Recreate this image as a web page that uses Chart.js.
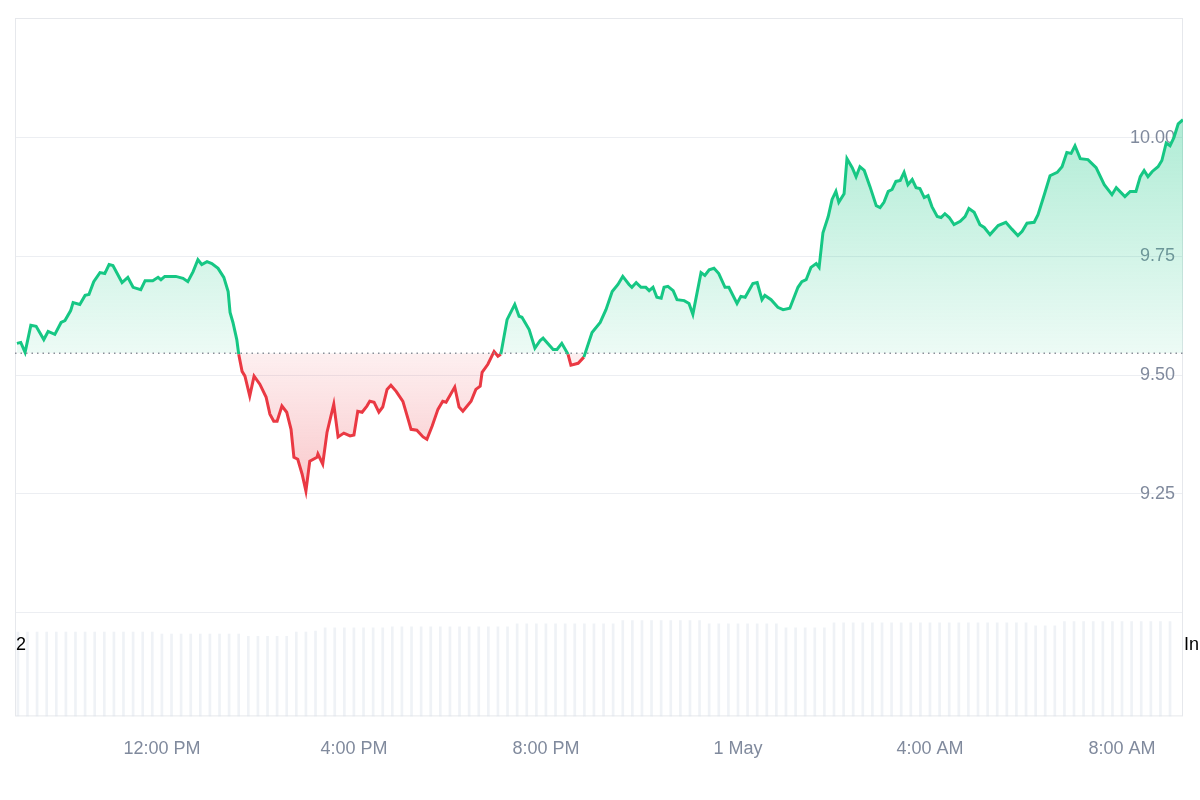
<!DOCTYPE html>
<html><head><meta charset="utf-8">
<script src="https://cdn.jsdelivr.net/npm/chart.js@4"></script>
<style>
html,body{margin:0;padding:0;background:#fff;overflow:hidden}
#wrap{position:relative;width:1200px;height:800px}
.t{position:absolute;font:18px "Liberation Sans",Arial,sans-serif;color:#000}
</style></head><body>
<div id="wrap"><canvas id="c" width="1200" height="800"></canvas>
<div class="t" style="left:16px;top:634px">2</div>
<div class="t" style="left:1184px;top:634px">In</div>
</div>
<script>
const hours = [8.98,9.06,9.15,9.27,9.38,9.54,9.63,9.77,9.90,9.98,10.10,10.15,10.29,10.40,10.48,10.58,10.71,10.81,10.90,10.98,11.17,11.29,11.40,11.56,11.65,11.81,11.92,11.98,12.06,12.29,12.44,12.54,12.65,12.75,12.83,12.94,13.04,13.17,13.29,13.38,13.42,13.48,13.56,13.60,13.67,13.73,13.83,13.92,14.04,14.17,14.25,14.33,14.40,14.50,14.60,14.69,14.75,14.83,14.92,15.00,15.08,15.23,15.25,15.35,15.44,15.58,15.67,15.79,15.92,16.00,16.08,16.17,16.27,16.33,16.42,16.52,16.60,16.69,16.77,16.88,17.02,17.13,17.19,17.31,17.44,17.52,17.63,17.75,17.85,17.92,18.10,18.19,18.27,18.44,18.54,18.63,18.67,18.79,18.92,19.00,19.06,19.19,19.35,19.44,19.50,19.65,19.77,19.88,19.94,20.15,20.23,20.33,20.46,20.52,20.67,20.79,20.96,21.13,21.25,21.38,21.50,21.60,21.73,21.79,21.88,21.98,22.08,22.15,22.23,22.31,22.40,22.46,22.54,22.65,22.73,22.88,22.98,23.06,23.23,23.31,23.40,23.50,23.60,23.73,23.81,23.98,24.06,24.15,24.31,24.40,24.50,24.56,24.69,24.83,24.94,25.08,25.25,25.33,25.42,25.52,25.63,25.69,25.77,25.88,25.96,26.04,26.10,26.21,26.27,26.38,26.46,26.54,26.63,26.75,26.88,26.96,27.04,27.13,27.21,27.29,27.38,27.46,27.54,27.63,27.71,27.79,27.88,27.96,28.04,28.15,28.23,28.31,28.40,28.50,28.63,28.73,28.81,28.92,29.04,29.13,29.25,29.42,29.58,29.71,29.83,29.92,30.02,30.17,30.25,30.38,30.50,30.65,30.75,30.85,30.94,31.02,31.13,31.29,31.46,31.63,31.79,31.88,32.06,32.17,32.29,32.38,32.46,32.54,32.63,32.75,32.83,32.92,33.00,33.08,33.17,33.27];
const prices = [9.567,9.569,9.548,9.605,9.603,9.575,9.592,9.586,9.611,9.615,9.636,9.653,9.649,9.668,9.670,9.697,9.716,9.714,9.733,9.731,9.695,9.706,9.685,9.680,9.699,9.699,9.706,9.701,9.708,9.708,9.704,9.697,9.718,9.743,9.733,9.739,9.735,9.725,9.706,9.676,9.632,9.611,9.575,9.544,9.508,9.498,9.456,9.498,9.481,9.454,9.418,9.403,9.403,9.435,9.422,9.386,9.327,9.323,9.292,9.256,9.319,9.327,9.334,9.313,9.380,9.439,9.370,9.378,9.372,9.374,9.424,9.422,9.435,9.445,9.443,9.422,9.433,9.470,9.479,9.466,9.445,9.407,9.386,9.384,9.370,9.365,9.393,9.428,9.445,9.443,9.475,9.433,9.424,9.445,9.470,9.477,9.506,9.523,9.550,9.540,9.544,9.617,9.649,9.624,9.622,9.596,9.557,9.573,9.578,9.554,9.554,9.567,9.544,9.521,9.525,9.538,9.590,9.611,9.638,9.676,9.691,9.708,9.691,9.685,9.695,9.685,9.685,9.678,9.685,9.664,9.662,9.685,9.687,9.678,9.659,9.657,9.651,9.628,9.716,9.710,9.722,9.725,9.714,9.685,9.685,9.651,9.666,9.664,9.693,9.695,9.659,9.668,9.659,9.643,9.638,9.641,9.685,9.697,9.701,9.727,9.735,9.727,9.800,9.834,9.870,9.887,9.864,9.882,9.956,9.937,9.918,9.939,9.931,9.897,9.857,9.853,9.864,9.887,9.891,9.908,9.910,9.927,9.901,9.912,9.895,9.893,9.874,9.878,9.855,9.834,9.832,9.840,9.832,9.817,9.824,9.834,9.851,9.843,9.817,9.811,9.796,9.815,9.822,9.807,9.794,9.803,9.820,9.822,9.838,9.880,9.920,9.927,9.939,9.969,9.967,9.983,9.956,9.954,9.937,9.901,9.880,9.895,9.876,9.887,9.887,9.918,9.931,9.918,9.929,9.939,9.952,9.989,9.983,10.000,10.029,10.038];
const baseline = 9.546;
const volHours = [9.0,9.2,9.4,9.6,9.8,10.0,10.2,10.4,10.6,10.8,11.0,11.2,11.4,11.6,11.8,12.0,12.2,12.4,12.6,12.8,13.0,13.2,13.4,13.6,13.8,14.0,14.2,14.4,14.6,14.8,15.0,15.2,15.4,15.6,15.8,16.0,16.2,16.4,16.6,16.8,17.0,17.2,17.4,17.6,17.8,18.0,18.2,18.4,18.6,18.8,19.0,19.2,19.4,19.6,19.8,20.0,20.2,20.4,20.6,20.8,21.0,21.2,21.4,21.6,21.8,22.0,22.2,22.4,22.6,22.8,23.0,23.2,23.4,23.6,23.8,24.0,24.2,24.4,24.6,24.8,25.0,25.2,25.4,25.6,25.8,26.0,26.2,26.4,26.6,26.8,27.0,27.2,27.4,27.6,27.8,28.0,28.2,28.4,28.6,28.8,29.0,29.2,29.4,29.6,29.8,30.0,30.2,30.4,30.6,30.8,31.0,31.2,31.4,31.6,31.8,32.0,32.2,32.4,32.6,32.8,33.0];
const volumes = [81,81,81,81,81,81,81,81,81,81,81,81,81,81,81,79,79,79,79,79,79,79,79,79,77,77,77,77,77,81,81,82,85,85,85,85,85,85,85,86,86,86,86,86,86,86,86,86,86,86,86,86,89,89,89,89,89,89,89,89,89,89,89,92,92,92,92,92,92,92,92,92,89,89,89,89,89,89,89,89,85,85,85,85,85,90,90,90,90,90,90,90,90,90,90,90,90,90,90,90,90,90,90,90,90,90,87,87,87,91,91,91,91,91,91,91,91,91,91,91,91];
const xTicks = [12,16,20,24,28,32];
const xTickLabels = ['12:00 PM','4:00 PM','8:00 PM','1 May','4:00 AM','8:00 AM'];
const yTicks = [9.0,9.25,9.5,9.75,10.0,10.25];
const yTickLabels = {9.25:'9.25',9.5:'9.50',9.75:'9.75',10:'10.00'};

const GREEN='#16c784', RED='#ea3943';
const frame = {id:'frame',
  beforeDatasetsDraw(ch){const a=ch.chartArea,c=ch.ctx;c.save();c.strokeStyle='#e6e8ec';c.lineWidth=1;c.strokeRect(a.left+0.5,a.top+0.5,a.right-a.left-1,a.bottom-a.top-1);c.restore();},
  afterDatasetsDraw(ch){const a=ch.chartArea,c=ch.ctx,y=ch.scales.y.getPixelForValue(baseline);c.save();c.strokeStyle='#8a8f99';c.lineWidth=1.5;c.setLineDash([1.5,4]);c.beginPath();c.moveTo(a.left,y);c.lineTo(a.right,y);c.stroke();c.restore();}
};
const ch = new Chart(document.getElementById('c'),{
  data:{datasets:[
    {type:'line',data:hours.map((h,i)=>({x:h,y:prices[i]})),yAxisID:'y',borderWidth:3,pointRadius:0,tension:0,
     borderColor:GREEN,fill:{value:baseline,above:'rgba(22,199,132,0.15)',below:'rgba(234,57,67,0.12)'},
     segment:{borderColor:c=>((c.p0.parsed.y+c.p1.parsed.y)/2<baseline?RED:GREEN)},order:0},
    {type:'bar',data:volHours.map((h,i)=>({x:h,y:volumes[i]})),yAxisID:'yv',backgroundColor:'rgba(220,226,236,0.45)',barThickness:2,order:1}
  ]},
  options:{responsive:false,animation:false,events:[],
    layout:{padding:{left:15,right:17,top:18,bottom:26}},
    plugins:{legend:{display:false},tooltip:{enabled:false}},
    scales:{
      x:{type:'linear',offset:false,min:8.94,max:33.27,grid:{display:false,offset:false},border:{display:false},
         afterBuildTicks:s=>{s.ticks=xTicks.map(v=>({value:v}));},
         ticks:{padding:14,color:'#808a9d',font:{size:18,family:'"Liberation Sans",Arial,sans-serif'},maxRotation:0,callback:v=>xTickLabels[xTicks.indexOf(v)]}},
      y:{position:'right',min:8.7815,max:10.2521,border:{display:false},grid:{color:'#eceef2',lineWidth:1,drawTicks:false},
         afterBuildTicks:s=>{s.ticks=yTicks.map(v=>({value:v}));},
         afterFit:s=>{s.width=0;},
         ticks:{mirror:true,padding:-8,color:'#808a9d',font:{size:18,family:'"Liberation Sans",Arial,sans-serif'},callback:v=>yTickLabels[v]||''}},
      yv:{position:'left',min:0,max:671,display:false}
    }},
  plugins:[frame]
});
const ctx=ch.ctx, ys=ch.scales.y, yb=ys.getPixelForValue(baseline);
const gUp=ctx.createLinearGradient(0,ys.getPixelForValue(10.05),0,yb);
gUp.addColorStop(0,'rgba(22,199,132,0.35)');gUp.addColorStop(1,'rgba(22,199,132,0.08)');
const gDn=ctx.createLinearGradient(0,yb,0,ys.getPixelForValue(9.25));
gDn.addColorStop(0,'rgba(234,57,67,0.08)');gDn.addColorStop(1,'rgba(234,57,67,0.28)');
ch.data.datasets[0].fill={value:baseline,above:gUp,below:gDn};
ch.update();
</script></body></html>
